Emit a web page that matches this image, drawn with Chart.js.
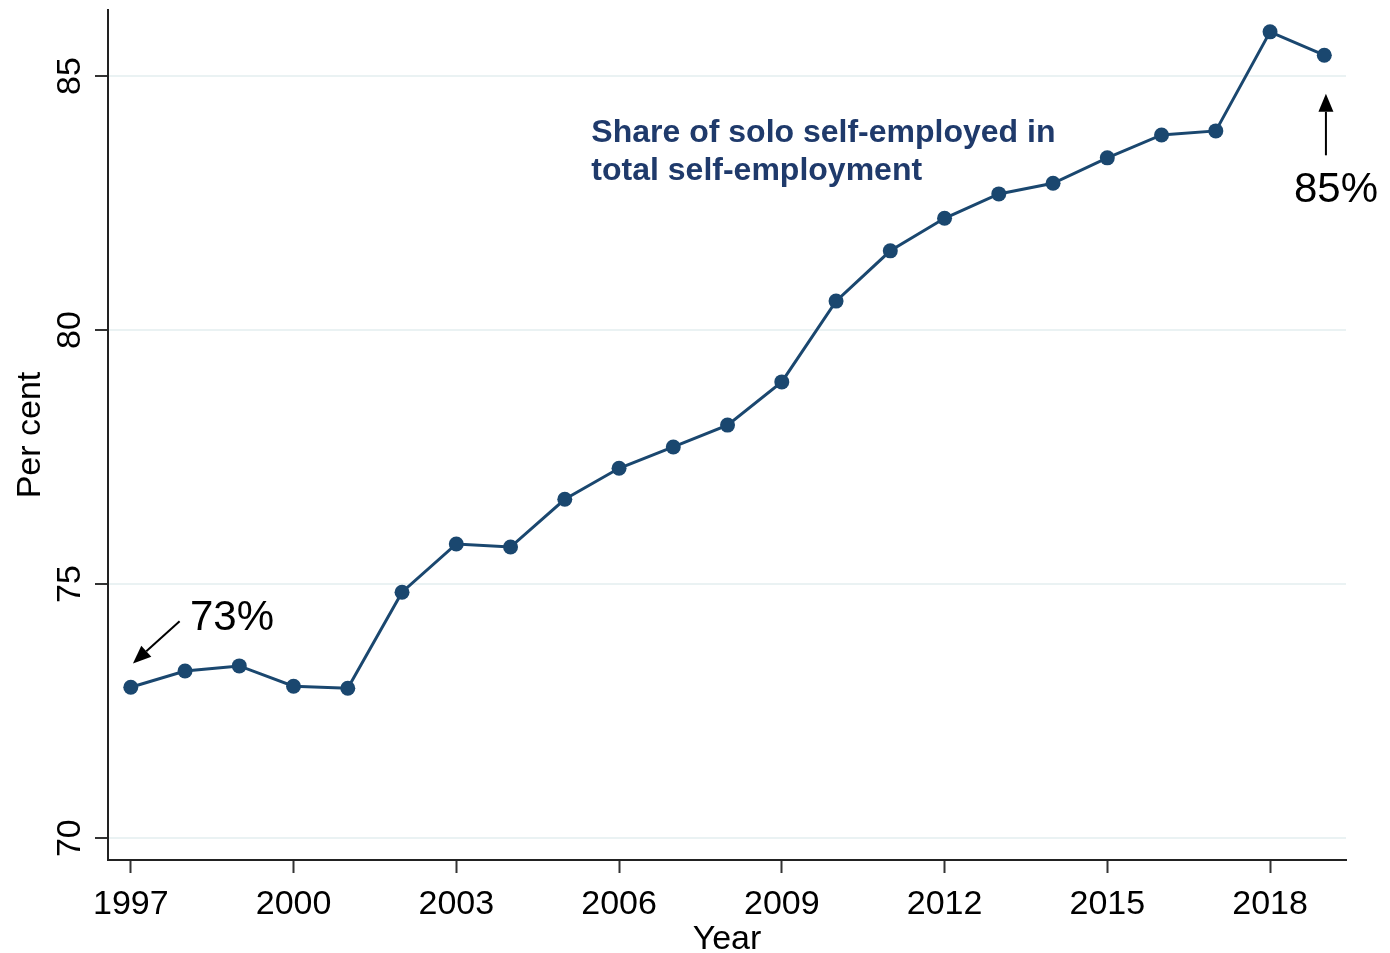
<!DOCTYPE html>
<html>
<head>
<meta charset="utf-8">
<script src="https://cdn.jsdelivr.net/npm/chart.js@4"></script>
<style>
  html, body { margin: 0; padding: 0; background: #ffffff; }
  #wrap { width: 1390px; height: 953px; }
</style>
</head>
<body>
<div id="wrap"><canvas id="soloChart" width="1390" height="953"></canvas></div>
<script>
var years = [1997, 1998, 1999, 2000, 2001, 2002, 2003, 2004, 2005, 2006, 2007, 2008,
             2009, 2010, 2011, 2012, 2013, 2014, 2015, 2016, 2017, 2018, 2019];
var soloShare = [72.97, 73.29, 73.39, 72.99, 72.95, 74.84, 75.79, 75.73, 76.67, 77.28, 77.70, 78.13,
                 78.98, 80.57, 81.56, 82.20, 82.68, 82.89, 83.39, 83.84, 83.92, 85.87, 85.41];
var xTicks = [1997, 2000, 2003, 2006, 2009, 2012, 2015, 2018];
var yTicks = [70, 75, 80, 85];

var navy = "#1a476f";
var textFont = "'Liberation Sans', Arial, sans-serif";

function drawArrow(ctx, x1, y1, x2, y2) {
  var ang = Math.atan2(y2 - y1, x2 - x1);
  var len = 18, half = 7.5;
  var bx = x2 - len * Math.cos(ang), by = y2 - len * Math.sin(ang);
  ctx.beginPath();
  ctx.moveTo(x1, y1);
  ctx.lineTo(bx, by);
  ctx.stroke();
  ctx.beginPath();
  ctx.moveTo(x2, y2);
  ctx.lineTo(bx + half * Math.sin(ang), by - half * Math.cos(ang));
  ctx.lineTo(bx - half * Math.sin(ang), by + half * Math.cos(ang));
  ctx.closePath();
  ctx.fill();
}

// notes, arrows and the white page
var notesPlugin = {
  id: "notes",
  beforeDraw: function(chart) {
    var ctx = chart.ctx;
    ctx.save();
    ctx.fillStyle = "#ffffff";
    ctx.fillRect(0, 0, chart.width, chart.height);
    ctx.restore();
  },
  afterDatasetsDraw: function(chart) {
    var ctx = chart.ctx;
    var xs = chart.scales.x, ys = chart.scales.y;
    ctx.save();
    ctx.fillStyle = "#1f3a6b";
    ctx.font = "bold 32px " + textFont;
    ctx.textBaseline = "alphabetic";
    ctx.textAlign = "left";
    ctx.fillText("Share of solo self-employed in", xs.getPixelForValue(2005.49), ys.getPixelForValue(83.70));
    ctx.fillText("total self-employment", xs.getPixelForValue(2005.49), ys.getPixelForValue(82.95));

    ctx.fillStyle = "#000000";
    ctx.font = "42px " + textFont;
    ctx.fillText("73%", xs.getPixelForValue(1998.09), ys.getPixelForValue(74.09));
    ctx.fillText("85%", xs.getPixelForValue(2018.44), ys.getPixelForValue(82.52));

    ctx.strokeStyle = "#000000";
    ctx.lineWidth = 2;
    drawArrow(ctx, xs.getPixelForValue(1997.90), ys.getPixelForValue(74.27),
                   xs.getPixelForValue(1997.04), ys.getPixelForValue(73.44));
    drawArrow(ctx, xs.getPixelForValue(2019.03), ys.getPixelForValue(83.44),
                   xs.getPixelForValue(2019.03), ys.getPixelForValue(84.65));
    ctx.restore();
  }
};

setupSoloChart();

function setupSoloChart() {
  var el = document.getElementById("soloChart").getContext("2d");
  var points = [];
  for (var i = 0; i < years.length; i++) {
    points.push({ x: years[i], y: soloShare[i] });
  }

  var soloChart = new Chart(el, {
    type: "line",
    data: {
      datasets: [{
        label: "Share of solo self-employed",
        data: points,
        borderColor: navy,
        backgroundColor: navy,
        borderWidth: 3,
        pointRadius: 7.5,
        pointHoverRadius: 7.5,
        pointBorderWidth: 0,
        tension: 0
      }]
    },
    options: {
      responsive: false,
      animation: false,
      events: [],
      layout: { padding: { top: 10, right: 44, left: 0, bottom: 0 } },
      plugins: {
        legend: { display: false },
        tooltip: { enabled: false }
      },
      scales: {
        x: {
          type: "linear",
          min: 1996.58,
          max: 2019.4,
          afterBuildTicks: function(scale) {
            scale.ticks = xTicks.map(function(v) { return { value: v }; });
          },
          afterFit: function(scale) {
            scale.height = 93;
            scale.paddingLeft = 0;
            scale.paddingRight = 0;
          },
          grid: { drawOnChartArea: false, tickLength: 13, tickColor: "#333333", tickWidth: 2 },
          border: { color: "#222222", width: 2 },
          ticks: {
            color: "#000000",
            padding: 11,
            maxRotation: 0,
            autoSkip: false,
            font: { family: textFont, size: 34 },
            callback: function(v) { return String(v); }
          },
          title: {
            display: true,
            text: "Year",
            color: "#000000",
            padding: 0,
            font: { family: textFont, size: 34, lineHeight: 0.78 }
          }
        },
        y: {
          min: 69.57,
          max: 86.3,
          afterBuildTicks: function(scale) {
            scale.ticks = yTicks.map(function(v) { return { value: v }; });
          },
          afterFit: function(scale) {
            scale.width = 108;
            scale.paddingTop = 0;
            scale.paddingBottom = 0;
          },
          grid: { color: "#eaf2f3", lineWidth: 2, tickLength: 13, tickColor: "#333333", tickWidth: 2 },
          border: { color: "#222222", width: 2 },
          ticks: {
            color: "#000000",
            padding: 5,
            minRotation: 90,
            maxRotation: 90,
            crossAlign: "center",
            autoSkip: false,
            font: { family: textFont, size: 34 },
            callback: function(v) { return String(v); }
          },
          title: {
            display: true,
            text: "Per cent",
            color: "#000000",
            padding: { top: 10, bottom: 0 },
            font: { family: textFont, size: 34, lineHeight: 1.2 }
          }
        }
      }
    },
    plugins: [notesPlugin]
  });
}
</script>
</body>
</html>
